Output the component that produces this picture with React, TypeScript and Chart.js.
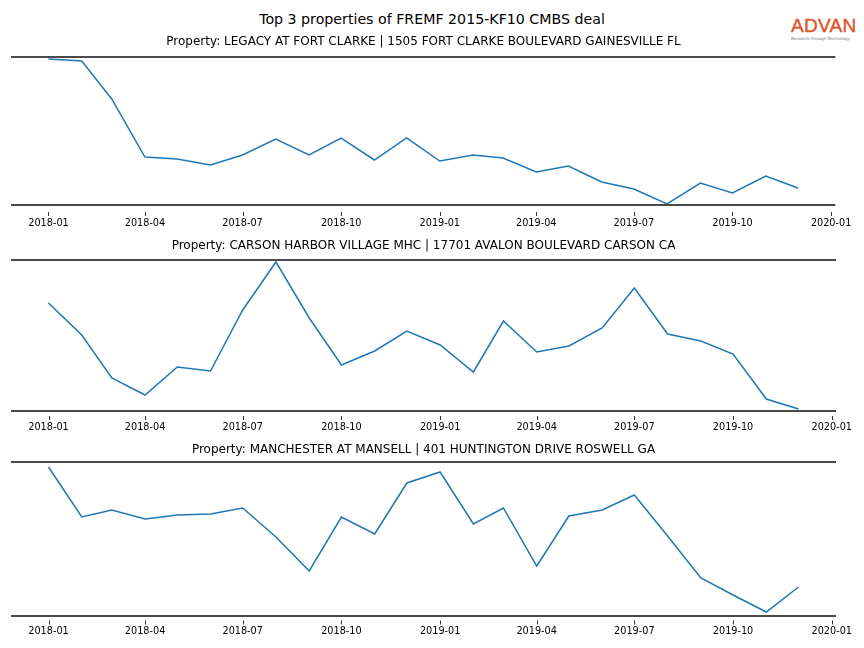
import React, { useEffect, useRef } from "react";
import { Chart, registerables } from "chart.js";

Chart.register(...registerables);

const mainTitle = "Top 3 properties of FREMF 2015-KF10 CMBS deal";

const months = [
  "2018-01", "2018-02", "2018-03", "2018-04", "2018-05", "2018-06",
  "2018-07", "2018-08", "2018-09", "2018-10", "2018-11", "2018-12",
  "2019-01", "2019-02", "2019-03", "2019-04", "2019-05", "2019-06",
  "2019-07", "2019-08", "2019-09", "2019-10", "2019-11", "2019-12",
];

const tickLabels = [
  "2018-01", "2018-04", "2018-07", "2018-10", "2019-01",
  "2019-04", "2019-07", "2019-10", "2020-01",
];

const legacyTitle = "Property: LEGACY AT FORT CLARKE | 1505 FORT CLARKE BOULEVARD GAINESVILLE FL";
const legacyValues = [146, 144, 106, 48, 46, 40, 50, 66, 50, 67, 45, 67, 44, 50, 47, 33, 39, 23, 16, 1, 22, 12, 29, 17];

const carsonTitle = "Property: CARSON HARBOR VILLAGE MHC | 17701 AVALON BOULEVARD CARSON CA";
const carsonValues = [108, 76, 33, 16, 44, 40, 101, 149, 93, 46, 60, 80, 66, 39, 90, 59, 65, 83, 123, 77, 70, 57, 12, 2];

const manchesterTitle = "Property: MANCHESTER AT MANSELL | 401 HUNTINGTON DRIVE ROSWELL GA";
const manchesterValues = [149, 99, 106, 97, 101, 102, 108, 79, 45, 99, 82, 133, 144, 92, 108, 50, 100, 106, 121, 80, 38, 21, 4, 29];

const toDays = (ym: string) => {
  const [y, m] = ym.split("-").map(Number);
  return Date.UTC(y, m - 1, 1) / 86400000;
};

const FONT = "'DejaVu Sans', Verdana, sans-serif";

const spinePlugin = {
  id: "spines",
  afterDraw(chart: any, _args: any, opts: any) {
    const { ctx, chartArea } = chart;
    const { left, right, top, bottom } = chartArea;
    ctx.save();
    ctx.strokeStyle = "#4a4a4a";
    ctx.lineWidth = 2;
    ctx.beginPath();
    ctx.moveTo(left, top);
    ctx.lineTo(right, top);
    ctx.moveTo(left, bottom);
    ctx.lineTo(right, bottom);
    ctx.stroke();
    // tick marks, offset below the bottom spine
    const xScale = chart.scales.x;
    const gap = opts.tickGap || 5;
    ctx.strokeStyle = "#333";
    ctx.lineWidth = 1;
    ctx.beginPath();
    xScale.ticks.forEach((t: any) => {
      const px = Math.round(xScale.getPixelForValue(t.value)) + 0.5;
      ctx.moveTo(px, bottom + gap);
      ctx.lineTo(px, bottom + gap + 4);
    });
    ctx.stroke();
    ctx.restore();
  },
};

type PanelProps = {
  title: string;
  values: number[];
  yMax: number;
  top: number;
  height: number;
  titleGap: number;
  tickGap: number;
};

function Panel({ title, values, yMax, top, height, titleGap, tickGap }: PanelProps) {
  const ref = useRef<HTMLCanvasElement | null>(null);

  useEffect(() => {
    if (!ref.current) return;
    const first = toDays(months[0]);
    const last = toDays(months[months.length - 1]);
    const span = last - first;
    const chart = new Chart(ref.current, {
      type: "line",
      data: {
        datasets: [
          {
            data: months.map((m, i) => ({ x: toDays(m), y: values[i] })),
            borderColor: "#1f77b4",
            borderWidth: 1.5,
            pointRadius: 0,
            tension: 0,
            fill: false,
          },
        ],
      },
      options: {
        animation: false,
        responsive: false,
        maintainAspectRatio: false,
        layout: { padding: { left: 11, right: 28, top: 0, bottom: 0 } },
        plugins: {
          legend: { display: false },
          tooltip: { enabled: false },
          title: {
            display: true,
            text: title,
            color: "#000",
            font: { family: FONT, size: 12, weight: "normal", lineHeight: 1.2 },
            padding: { top: 0, bottom: titleGap },
          },
          spines: { tickGap },
        },
        scales: {
          x: {
            type: "linear",
            min: first - 0.05 * span,
            max: last + 0.05 * span,
            afterBuildTicks: (axis: any) => {
              axis.ticks = tickLabels.map((t) => ({ value: toDays(t) }));
            },
            afterFit: (axis: any) => {
              axis.height = 30;
            },
            ticks: {
              autoSkip: false,
              maxRotation: 0,
              minRotation: 0,
              color: "#000",
              padding: tickGap + 4 + 7.3 - 5.8,
              font: { family: FONT, size: 9.7 },
              callback: (_v: any, i: number) => tickLabels[i],
            },
            grid: { display: false, drawTicks: false, tickLength: 0 },
            border: { display: false },
          },
          y: { display: false, min: 0, max: yMax },
        },
      },
      plugins: [spinePlugin],
    } as any);
    return () => chart.destroy();
  }, [title, values, yMax, titleGap, tickGap]);

  return (
    <canvas
      ref={ref}
      width={864}
      height={height}
      style={{ position: "absolute", left: 0, top, width: 864, height }}
    />
  );
}

export default function App() {
  return (
    <div
      style={{
        position: "absolute",
        left: 0,
        top: 0,
        width: 864,
        height: 648,
        background: "#fff",
        overflow: "hidden",
        fontFamily: FONT,
      }}
    >
      <div
        style={{
          position: "absolute",
          left: 0,
          top: 11,
          width: 864,
          textAlign: "center",
          fontSize: 14.2,
          lineHeight: "17px",
          color: "#000",
        }}
      >
        {mainTitle}
      </div>
      <div style={{ position: "absolute", left: 791, top: 15, width: 70 }}>
        <div
          style={{
            fontSize: 19,
            lineHeight: "22px",
            color: "#e0522a",
            fontFamily: "'Liberation Sans', Arial, sans-serif",
            letterSpacing: 0.3,
            WebkitTextStroke: "0.4px #e0522a",
          }}
        >
          ADVAN
        </div>
        <div style={{ fontSize: 4, lineHeight: "5px", color: "#777", marginTop: -1 }}>
          Research through Technology
        </div>
      </div>
      <Panel title={legacyTitle} values={legacyValues} yMax={148} top={35} height={200} titleGap={7.6} tickGap={7} />
      <Panel title={carsonTitle} values={carsonValues} yMax={151} top={239} height={202} titleGap={6.6} tickGap={5} />
      <Panel title={manchesterTitle} values={manchesterValues} yMax={154} top={443} height={203} titleGap={4.6} tickGap={4.5} />
    </div>
  );
}
